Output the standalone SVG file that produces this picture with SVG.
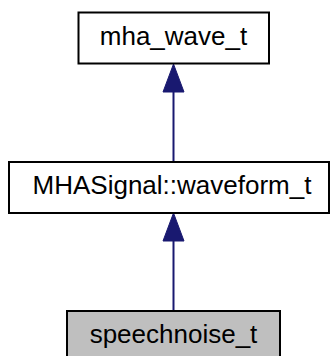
<svg xmlns="http://www.w3.org/2000/svg" width="330" height="356" viewBox="0 0 330 356">
<style>
.box{fill:#ffffff;stroke:#000000;stroke-width:2}
.cur{fill:#bfbfbf;stroke:#000000;stroke-width:2}
.lbl{font-family:"Liberation Sans",Arial,sans-serif;font-size:26px;fill:#000000;text-anchor:middle}
.edge{stroke:#191970;stroke-width:2;fill:none}
.head{fill:#191970;stroke:#191970;stroke-width:1}
</style>
<rect width="330" height="356" fill="#ffffff"/>
<g id="connectors">
<path class="edge" d="M173.5,162 V92"/>
<polygon class="head" points="173.5,64 163,92 184,92"/>
<path class="edge" d="M173.5,311 V241"/>
<polygon class="head" points="173.5,213 163,241 184,241"/>
</g>
<g id="node_mha_wave_t">
<rect class="box" x="78.5" y="12.5" width="190.5" height="51"/>
<text class="lbl" x="173.5" y="45">mha_wave_t</text>
</g>
<g id="node_waveform_t">
<rect class="box" x="9" y="162" width="320" height="51"/>
<text class="lbl" x="172" y="194">MHASignal::waveform_t</text>
</g>
<g id="node_speechnoise_t">
<rect class="cur" x="67" y="311" width="213" height="51"/>
<text class="lbl" x="173.5" y="343">speechnoise_t</text>
</g>
</svg>
